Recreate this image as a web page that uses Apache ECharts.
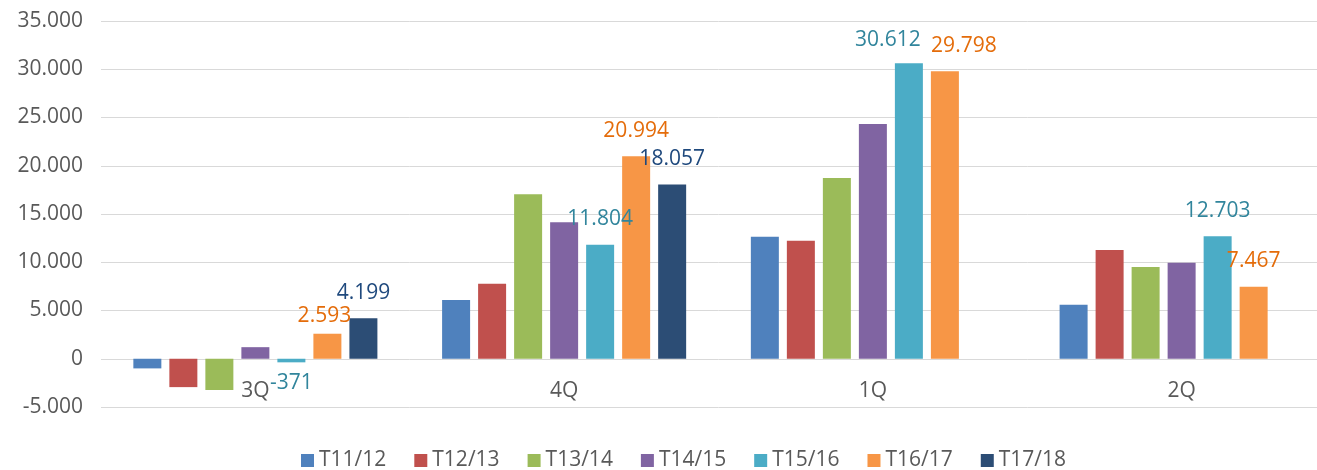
<!DOCTYPE html>
<html>
<head>
<meta charset="utf-8">
<script src="https://cdn.jsdelivr.net/npm/echarts@6/dist/echarts.min.js"></script>
<style>
  html, body { margin: 0; padding: 0; background: #ffffff; overflow: hidden; }
  /* the plot area runs on past the right edge of the window */
  #chart { width: 1340px; height: 470px; }
</style>
</head>
<body>
<div id="chart"></div>
<script>
// Quarters on the category axis
const categories = ['3Q', '4Q', '1Q', '2Q'];

// Seasons (one bar series each)
const seasons = ['T11/12', 'T12/13', 'T13/14', 'T14/15', 'T15/16', 'T16/17', 'T17/18'];

// Values per season, in quarter order
const t1112 = [-1000, 6080, 12630, 5590];
const t1213 = [-2940, 7770, 12220, 11280];
const t1314 = [-3250, 17050, 18740, 9520];
const t1415 = [1200, 14150, 24330, 9940];
const t1516 = [-371, 11804, 30612, 12703];
const t1617 = [2593, 20994, 29798, 7467];
const t1718 = [4199, 18057, null, null];

const seriesValues = [t1112, t1213, t1314, t1415, t1516, t1617, t1718];

// Value axis range
const yMin = -5000;
const yMax = 35000;
const yStep = 5000;

// Styling
const barColors = ['#4f81bd', '#c0504d', '#9bbb59', '#8064a2', '#4bacc6', '#f79646', '#2c4d75'];
const labelColors = [null, null, null, null, '#31859c', '#e46c0a', '#1f497d'];
const textFont = "'Open Sans', 'Liberation Sans', sans-serif";

// Nudges for a few value labels so neighbours do not collide: [series][category]
const labelNudge = {
  4: { 0: { position: 'bottom', distance: 10 }, 2: { offset: [-21, 2] } },
  5: { 0: { offset: [-3, 8] }, 2: { offset: [19, 0] } }
};

// Thousands separated with dots
function fmt(v) {
  const s = Math.abs(Math.round(v)).toString().replace(/\B(?=(\d{3})+(?!\d))/g, '.');
  return (v < 0 ? '-' : '') + s;
}

const series = seasons.map(function (name, si) {
  const showLabel = labelColors[si] !== null;
  const data = seriesValues[si].map(function (v, ci) {
    const item = { value: v };
    if (showLabel && labelNudge[si] && labelNudge[si][ci]) {
      item.label = Object.assign({}, labelNudge[si][ci]);
    }
    return item;
  });
  return {
    name: name,
    type: 'bar',
    barWidth: 28,
    barGap: '28.6%',
    itemStyle: { color: barColors[si] },
    label: {
      show: showLabel,
      position: 'top',
      distance: 15,
      color: labelColors[si] || '#595959',
      fontFamily: textFont,
      fontSize: 21,
      formatter: function (p) { return p.value == null ? '' : fmt(p.value); }
    },
    data: data
  };
});

const chart = echarts.init(document.getElementById('chart'), null, { renderer: 'canvas' });
chart.setOption({
  animation: false,
  backgroundColor: '#ffffff',
  color: barColors,
  grid: { left: 101, top: 21, width: 1235, height: 386, containLabel: false },
  legend: {
    data: seasons,
    left: 301,
    top: 450,
    padding: 0,
    icon: 'rect',
    itemWidth: 13,
    itemHeight: 13,
    itemGap: 28,
    textStyle: {
      fontFamily: textFont,
      fontSize: 21,
      color: '#595959'
    }
  },
  xAxis: {
    type: 'category',
    data: categories,
    axisTick: { show: false },
    axisLine: { show: false, onZero: false },
    // quarter names sit just under the zero line
    axisLabel: { margin: -26, fontFamily: textFont, fontSize: 21, color: '#595959' }
  },
  yAxis: {
    type: 'value',
    min: yMin,
    max: yMax,
    interval: yStep,
    axisLine: { show: false },
    axisTick: { show: false },
    splitLine: { lineStyle: { color: '#d9d9d9', width: 1 } },
    axisLabel: {
      margin: 18,
      fontFamily: textFont,
      fontSize: 21,
      color: '#595959',
      formatter: fmt
    }
  },
  series: series
});
</script>
</body>
</html>
